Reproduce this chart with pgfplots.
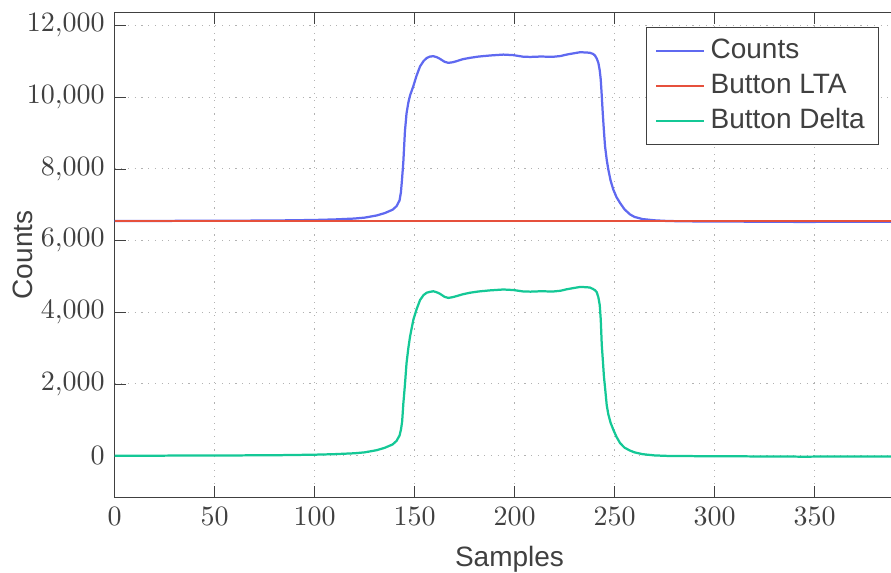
\documentclass[border=0pt]{standalone}
\usepackage{fontspec}
\setsansfont{Liberation Sans}
\usepackage{pgfplots}
\pgfplotsset{compat=1.18}
\usepackage{pgfplotstable}
\definecolor{cblue}{RGB}{95,105,240}
\definecolor{cred}{RGB}{230,80,60}
\definecolor{cgreen}{RGB}{20,200,150}
\definecolor{tgray}{RGB}{64,64,64}

\pgfplotstableread{
x counts delta
0 6545 -5
20 6548 -2
40 6552 2
60 6555 5
80 6560 10
100 6575 25
110 6590 40
120 6615 65
125 6640 90
131 6700 150
135 6765 215
139 6860 310
141 6960 410
142.5 7120 560
143.2 7350 720
143.8 7750 950
144.4 8200 1450
145.2 9050 1980
146 9550 2580
146.9 9850 3000
147.75 10050 3320
149.4 10310 3790
151 10600 4080
152.75 10860 4340
154.5 11010 4480
156.1 11095 4545
157.7 11135 4570
159.4 11145 4585
161 11120 4560
162.75 11070 4515
165 10990 4430
166.9 10960 4400
169 10975 4420
171 11006 4450
174 11060 4500
177.75 11100 4545
182 11135 4580
187.7 11165 4610
194.4 11190 4635
199.4 11175 4620
204.4 11130 4580
208 11125 4575
212.7 11135 4585
219.4 11130 4580
223 11150 4600
226 11190 4640
229.5 11225 4675
232.7 11255 4705
235.5 11250 4700
237.7 11240 4690
239.2 11210 4650
240.2 11165 4615
241.1 11080 4560
241.9 10960 4420
242.6 10750 4200
243.1 10490 3800
243.6 10050 3100
244.1 9560 2700
244.7 9050 2200
245.25 8631 1900
246.1 8250 1400
246.9 7980 1150
248 7680 920
249.4 7420 720
251 7210 520
252.75 7050 350
255 6870 220
257.75 6730 140
260 6660 90
264 6600 40
270 6565 5
277 6545 -10
290 6535 -15
310 6530 -20
330 6525 -25
345 6520 -30
360 6525 -25
375 6525 -25
395 6525 -25
}\data

\begin{document}
\begin{tikzpicture}
\begin{axis}[
  scale only axis,
  width=282.14pt, height=173.36pt,
  xmin=0, xmax=395, ymin=-1172, ymax=12374,
  xtick={0,50,...,350}, ytick={0,2000,...,12000},
  scaled y ticks=false, scaled x ticks=false,
  grid=major, major grid style={dotted, black!30},
  axis line style={tgray}, tick style={tgray},
  tick label style={text=tgray},
  xlabel={Samples}, ylabel={Counts},
  label style={font=\sffamily, text=tgray},
  x label style={at={(axis description cs:0.5,-0.1419)}, anchor=base},
  y label style={at={(axis description cs:-0.1166,0.5)}, anchor=center},
  legend style={at={(0.968,0.969)}, anchor=north east, font=\sffamily, text=tgray, draw=tgray},
  legend cell align=left,
]
\addplot[cblue, line width=0.8pt, line join=round] table[x=x, y=counts]{\data};
\addlegendentry{Counts}
\addplot[cred, line width=0.8pt] coordinates {(0,6550) (395,6550)};
\addlegendentry{Button LTA}
\addplot[cgreen, line width=0.8pt, line join=round] table[x=x, y=delta]{\data};
\addlegendentry{Button Delta}
\end{axis}
\pgfresetboundingbox
\useasboundingbox ([xshift=-40.9pt,yshift=-26.9pt]current axis.south west) rectangle ++(318.2pt,204.6pt);
\end{tikzpicture}
\end{document}
